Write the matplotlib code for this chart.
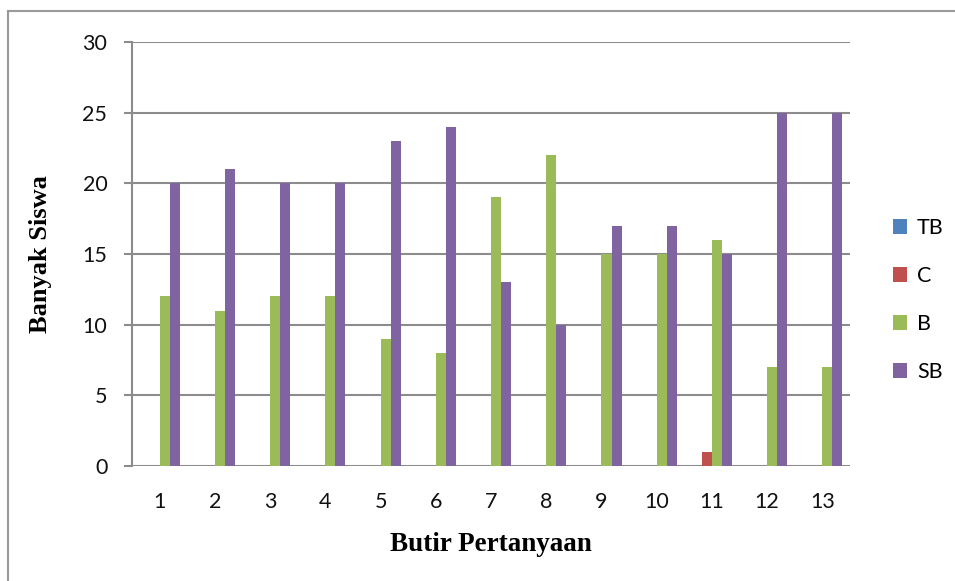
import matplotlib
matplotlib.use("Agg")
import matplotlib.pyplot as plt
from matplotlib.lines import Line2D
from matplotlib.patches import Patch
import numpy as np

categories = [str(i) for i in range(1, 14)]
series_names = ["TB", "C", "B", "SB"]
TB = [0, 0, 0, 0, 0, 0, 0, 0, 0, 0, 0, 0, 0]
C = [0, 0, 0, 0, 0, 0, 0, 0, 0, 0, 1, 0, 0]
B = [12, 11, 12, 12, 9, 8, 19, 22, 15, 15, 16, 7, 7]
SB = [20, 21, 20, 20, 23, 24, 13, 10, 17, 17, 15, 25, 25]
colors = ["#4F81BD", "#C0504D", "#9BBB59", "#8064A2"]
yticks = [0, 5, 10, 15, 20, 25, 30]

W, H = 955, 581
fig = plt.figure(figsize=(W / 100, H / 100), dpi=100)
ax = fig.add_axes([132 / W, 1 - 466 / H, (850 - 132) / W, (466 - 42) / H])

x = np.arange(len(categories))
bw = 1 / 5.5
for i, (vals, col) in enumerate(zip([TB, C, B, SB], colors)):
    ax.bar(x + (i - 1.5) * bw, vals, width=bw, color=col, zorder=3, linewidth=0)

ax.set_xlim(-0.5, len(categories) - 0.5)
ax.set_ylim(0, 30)
ax.set_yticks(yticks)
ax.set_xticks(x)
ax.set_xticklabels(categories)
grid_c = "#8C8C8C"
ax.yaxis.grid(True, color=grid_c, linewidth=1.5, zorder=0)
for s in ["top", "right", "bottom"]:
    ax.spines[s].set_visible(False)
ax.spines["left"].set_color(grid_c)
ax.spines["left"].set_linewidth(1.5)
ax.tick_params(axis="y", length=5.8, width=1.5, color=grid_c, pad=12)
ax.tick_params(axis="x", length=0, pad=19)
for lab in ax.get_xticklabels() + ax.get_yticklabels():
    lab.set_fontfamily("Lato")
    lab.set_fontsize(15.5)
    lab.set_color("#111111")

ax.set_ylabel("Banyak Siswa", fontfamily="Liberation Serif", fontweight="bold", fontsize=19, labelpad=22)
ax.set_xlabel("Butir Pertanyaan", fontfamily="Liberation Serif", fontweight="bold", fontsize=19.5, labelpad=14)

handles = [Patch(facecolor=c, edgecolor="none") for c in colors]
leg = fig.legend(handles, series_names, loc="center left", bbox_to_anchor=(874 / W, 1 - 300 / H),
                 frameon=False, prop={"family": "Lato", "size": 15.5}, labelspacing=1.3,
                 handlelength=0.65, handleheight=0.65, handletextpad=0.45)

fig.add_artist(Line2D([8 / W, 8 / W], [0, 1 - 11 / H], transform=fig.transFigure, color="#9A9A9A", linewidth=1.5))
fig.add_artist(Line2D([8 / W, 1], [1 - 11 / H, 1 - 11 / H], transform=fig.transFigure, color="#9A9A9A", linewidth=1.5))

fig.savefig("out.png", dpi=100)
